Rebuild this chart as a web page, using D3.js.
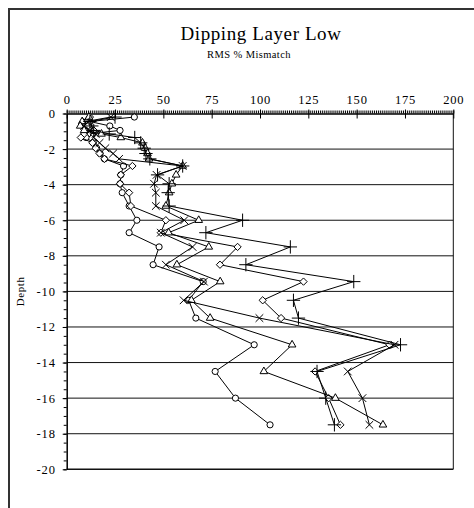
<!DOCTYPE html>
<html>
<head>
<meta charset="utf-8">
<script src="https://cdn.jsdelivr.net/npm/d3@7"></script>
<style>
  body { margin: 0; background: #fff; }
  text { font-family: "Liberation Serif", "Times New Roman", serif; fill: #000; }
</style>
</head>
<body>
<svg id="chart"></svg>
<script>
// depth levels (shared by all series)
var depths = [-0.2, -0.45, -0.7, -0.95, -1.15, -1.35, -1.65, -1.95, -2.25, -2.55,
              -2.95, -3.45, -3.95, -4.45, -5.2, -6.0, -6.7, -7.5, -8.5, -9.45,
              -10.5, -11.5, -13, -14.5, -16, -17.5];

// RMS % mismatch per series
var circleVals   = [35, 12, 22.3, 27.6, 11, 10, 13.8, 15.5, 17.3, 19.5,
                    29.4, 28, 27.6, 28.7, 32.3, 36.3, 32.3, 47.8, 44.7, 70.6,
                    63.1, 66.8, 97, 76.8, 87.3, 105.2];
var diamondVals  = [12, 10, 11, 14, 9, 7.3, 13.3, 15, 17, 19.5,
                    34, 28, 27.6, 32.3, 33.2, 51.3, 48.7, 88.4, 79.3, 122.5,
                    101.4, 110.9, 167, 128.5, 135.5, 141.6];
var triangleVals = [11.5, 8, 7, 9, 18, 28, 39.2, 40.6, 41.8, 42.6,
                    60, 56.6, 54.4, 53, 51.3, 68.3, 52.7, 73.5, 57, 79.4,
                    64.5, 74.2, 116.6, 102, 139, 163.6];
var timesVals    = [22.8, 10, 9, 12, 15, 14, 17, 20, 24, 27.1,
                    60, 46.5, 45.2, 46.1, 46.1, 60.8, 48.7, 65.1, 51.3, 71,
                    60.5, 99.7, 169.6, 145.4, 153, 156.6];
var plusVals     = [25, 12, 13, 14, 22, 35.2, 38.3, 40.1, 41, 43,
                    60, 47, 53, 52.5, 53, 91, 72, 115.7, 92.7, 148.5,
                    117.3, 119.9, 172.7, 129.5, 134, 138.5];

var xTicks = [0, 25, 50, 75, 100, 125, 150, 175, 200];
var yTicks = [0, -2, -4, -6, -8, -10, -12, -14, -16, -18, -20];
var gridLines = [-2, -4, -6, -8, -10, -12, -14, -16, -18];

var series = [
  {name: "circle",   vals: circleVals,   sym: d3.symbolCircle,   size: 30},
  {name: "diamond",  vals: diamondVals,  sym: d3.symbolDiamond2, size: 34},
  {name: "triangle", vals: triangleVals, sym: d3.symbolTriangle2, size: 42},
  {name: "times",    vals: timesVals,    sym: d3.symbolTimes,    size: 40},
  {name: "plus",     vals: plusVals,     sym: d3.symbolPlus,     size: 60}
];

var screen = {width: 474, height: 508};
var plot = {left: 66.7, right: 453.3, top: 113.5, bottom: 469.3};

var svg = d3.select("#chart")
    .attr("width", screen.width)
    .attr("height", screen.height);

// outer chart frame (runs off the picture on right / bottom)
svg.append("rect")
    .attr("x", 9).attr("y", 9)
    .attr("width", 480).attr("height", 520)
    .attr("fill", "none")
    .attr("stroke", "#333")
    .attr("stroke-width", 2);

var xScale = d3.scaleLinear().domain([0, 200]).range([plot.left, plot.right]);
var yScale = d3.scaleLinear().domain([0, -20]).range([plot.top, plot.bottom]);

// titles
svg.append("text")
    .attr("x", 261).attr("y", 40)
    .attr("text-anchor", "middle")
    .style("font-size", "19px")
    .style("letter-spacing", "0.6px")
    .text("Dipping Layer Low");
svg.append("text")
    .attr("x", 249).attr("y", 58)
    .attr("text-anchor", "middle")
    .style("font-size", "10.5px")
    .style("letter-spacing", "0.4px")
    .text("RMS % Mismatch");

// gridlines
svg.append("g").selectAll("line")
    .data(gridLines)
    .enter().append("line")
    .attr("x1", plot.left).attr("x2", plot.right)
    .attr("y1", function(d){ return yScale(d); })
    .attr("y2", function(d){ return yScale(d); })
    .attr("stroke", "#111")
    .attr("stroke-width", 1);

// right and bottom edges of the plot area
svg.append("line")
    .attr("x1", plot.right).attr("x2", plot.right)
    .attr("y1", plot.top).attr("y2", plot.bottom)
    .attr("stroke", "#111");
svg.append("line")
    .attr("x1", plot.left).attr("x2", plot.right)
    .attr("y1", plot.bottom).attr("y2", plot.bottom)
    .attr("stroke", "#111").attr("stroke-width", 1.5);

// top axis: minor ticks every 1, major every 25
var xMinor = d3.axisTop(xScale).tickValues(d3.range(0, 201, 1)).tickSize(3).tickFormat("");
svg.append("g").attr("id", "xMinor")
    .attr("transform", "translate(0," + plot.top + ")")
    .call(xMinor)
    .call(function(g){ g.select(".domain").remove(); });

var xAxis = d3.axisTop(xScale).tickValues(xTicks).tickSizeInner(4).tickSizeOuter(0).tickPadding(6);
svg.append("g").attr("id", "xAxis")
    .attr("transform", "translate(0," + plot.top + ")")
    .call(xAxis)
    .call(function(g){
      g.select(".domain").attr("stroke-width", 1.5);
      g.selectAll(".tick line").attr("y2", -4).attr("y1", 5);
      g.selectAll("text")
        .style("font-family", "Liberation Serif, serif")
        .style("font-size", "12.5px")
        .style("letter-spacing", "0.8px");
    });

// left axis: minor every 0.5
var yMinor = d3.axisLeft(yScale).tickValues(d3.range(0, -20.01, -0.5)).tickSize(3).tickFormat("");
svg.append("g").attr("id", "yMinor")
    .attr("transform", "translate(" + plot.left + ",0)")
    .call(yMinor)
    .call(function(g){ g.select(".domain").remove(); });

var yAxis = d3.axisLeft(yScale).tickValues(yTicks).tickSizeInner(4).tickSizeOuter(0).tickPadding(7)
    .tickFormat(function(d){ return d === 0 ? "0" : "-" + Math.abs(d); });
svg.append("g").attr("id", "yAxis")
    .attr("transform", "translate(" + plot.left + ",0)")
    .call(yAxis)
    .call(function(g){
      g.select(".domain").attr("stroke-width", 1.5);
      g.selectAll("text")
        .style("font-family", "Liberation Serif, serif")
        .style("font-size", "12.5px")
        .style("letter-spacing", "0.8px");
    });

svg.append("text")
    .attr("transform", "translate(24," + yScale(-10) + ") rotate(-90)")
    .attr("text-anchor", "middle")
    .style("font-size", "11px")
    .style("letter-spacing", "0.6px")
    .text("Depth");

// series lines + markers
var lineGen = d3.line()
    .x(function(d){ return xScale(d[0]); })
    .y(function(d){ return yScale(d[1]); });

series.forEach(function(s){
  var pts = s.vals.map(function(v, i){ return [v, depths[i]]; });
  var g = svg.append("g").attr("class", "series " + s.name);
  g.append("path")
    .datum(pts)
    .attr("d", lineGen)
    .attr("fill", "none")
    .attr("stroke", "#000")
    .attr("stroke-width", 1);
  g.selectAll("path.mark")
    .data(pts)
    .enter().append("path")
    .attr("class", "mark")
    .attr("transform", function(d){ return "translate(" + xScale(d[0]) + "," + yScale(d[1]) + ")"; })
    .attr("d", d3.symbol().type(s.sym).size(s.size))
    .attr("fill", (s.name === "times" || s.name === "plus") ? "none" : "#fff")
    .attr("stroke", "#000")
    .attr("stroke-width", 1);
});
</script>
</body>
</html>
